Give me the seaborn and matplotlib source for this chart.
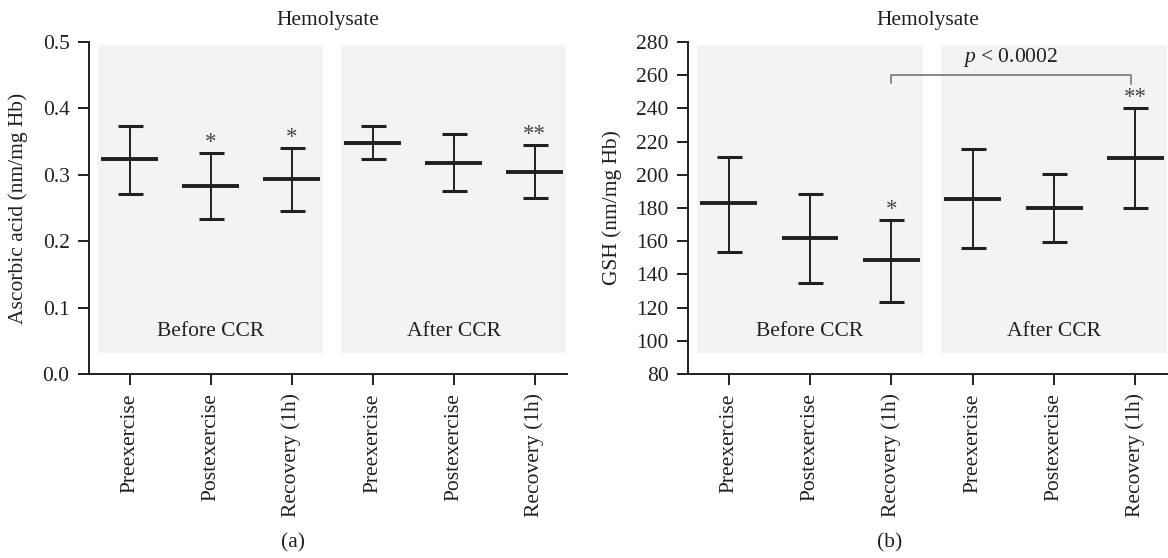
import numpy as np
import matplotlib
matplotlib.use("Agg")
import matplotlib.pyplot as plt
import seaborn as sns
from matplotlib.patches import Rectangle

# datos
categories = ["Preexercise", "Postexercise", "Recovery (1h)",
              "Preexercise", "Postexercise", "Recovery (1h)"]
groups = ["Before CCR", "After CCR"]

# (a) acido ascorbico
asc_mean = [0.324, 0.283, 0.294, 0.348, 0.318, 0.304]
asc_low = [0.271, 0.233, 0.245, 0.324, 0.275, 0.265]
asc_high = [0.373, 0.333, 0.340, 0.373, 0.361, 0.345]
asc_stars = ["", "*", "*", "", "", "**"]

# (b) GSH
gsh_mean = [183, 162, 148.5, 185.5, 180, 210]
gsh_low = [153.5, 135, 123.5, 156, 159.5, 180]
gsh_high = [211, 188.5, 172.5, 215.5, 200.5, 240]
gsh_stars = ["", "", "*", "", "", "**"]

sns.set_style("ticks")
plt.rcParams["font.family"] = ["Liberation Serif", "DejaVu Serif"]
plt.rcParams["mathtext.fontset"] = "custom"
plt.rcParams["mathtext.it"] = "Liberation Serif:italic"

INK = "#231f20"
BOX = "#f2f4f4"
FS = 15.5


def panel(ax, mean, low, high, stars, ylim, yticks, ylabel, star_off):
    x = np.arange(len(categories))
    mean = np.array(mean)
    low = np.array(low)
    high = np.array(high)
    # cajas grises de fondo
    for g, name in enumerate(groups):
        c = 3 * g + 1
        ax.add_patch(Rectangle((c - 1.39, 0.063), 2.78, 0.928, transform=ax.get_xaxis_transform(),
                               facecolor=BOX, edgecolor="none", zorder=0))
        ax.text(c, 0.127, name, transform=ax.get_xaxis_transform(), ha="center", va="center",
                fontsize=FS, color=INK)
    ax.errorbar(x, mean, yerr=[mean - low, high - mean], fmt="none", ecolor=INK,
                elinewidth=1.4, capsize=9, capthick=2.2, zorder=3)
    ax.hlines(mean, x - 0.35, x + 0.35, color=INK, linewidth=2.8, zorder=4)
    for xi, hi, s in zip(x, high, stars):
        if s:
            ax.text(xi, hi + star_off, s, ha="center", va="bottom", fontsize=FS + 1, color="#444")
    ax.set_xlim(-0.5, 5.4)
    ax.set_ylim(*ylim)
    ax.set_yticks(yticks)
    ax.set_xticks(x)
    ax.set_xticklabels(categories, rotation=90)
    ax.set_ylabel(ylabel, fontsize=FS, color=INK)
    ax.set_title("Hemolysate", fontsize=FS, color=INK, pad=12)
    ax.tick_params(axis="both", labelsize=FS, colors=INK, length=8, width=1.4, direction="out")
    ax.tick_params(axis="x", pad=6)
    ax.tick_params(axis="y", pad=6)
    sns.despine(ax=ax)
    for sp in ["left", "bottom"]:
        ax.spines[sp].set_linewidth(1.4)
        ax.spines[sp].set_color(INK)
    ax.set_facecolor("white")


fig = plt.figure(figsize=(11.68, 5.58), dpi=100)
ax1 = fig.add_axes([0.0762, 0.3297, 0.4092, 0.595])
ax2 = fig.add_axes([0.589, 0.3297, 0.411, 0.595])

panel(ax1, asc_mean, asc_low, asc_high, asc_stars, (0, 0.5),
      [0.0, 0.1, 0.2, 0.3, 0.4, 0.5], "Ascorbic acid (nm/mg Hb)", 0.0)
ax1.set_yticklabels(["0.0", "0.1", "0.2", "0.3", "0.4", "0.5"])
ax1.yaxis.set_label_coords(-0.128, 0.5)

panel(ax2, gsh_mean, gsh_low, gsh_high, gsh_stars, (80, 280),
      np.arange(80, 281, 20), "GSH (nm/mg Hb)", 0.0)
ax2.yaxis.set_label_coords(-0.137, 0.5)

# corchete de significancia
ax2.plot([2, 2, 4.95, 4.95], [255.3, 260, 260, 254.7], color="#808080", linewidth=1.3, zorder=5)
ax2.text(3.46, 263.5, r"$p$ < 0.0002", ha="center", va="bottom", fontsize=FS, color=INK)

fig.text(0.251, 0.027, "(a)", ha="center", va="center", fontsize=FS, color=INK)
fig.text(0.762, 0.027, "(b)", ha="center", va="center", fontsize=FS, color=INK)

fig.savefig("out.png", dpi=100)
